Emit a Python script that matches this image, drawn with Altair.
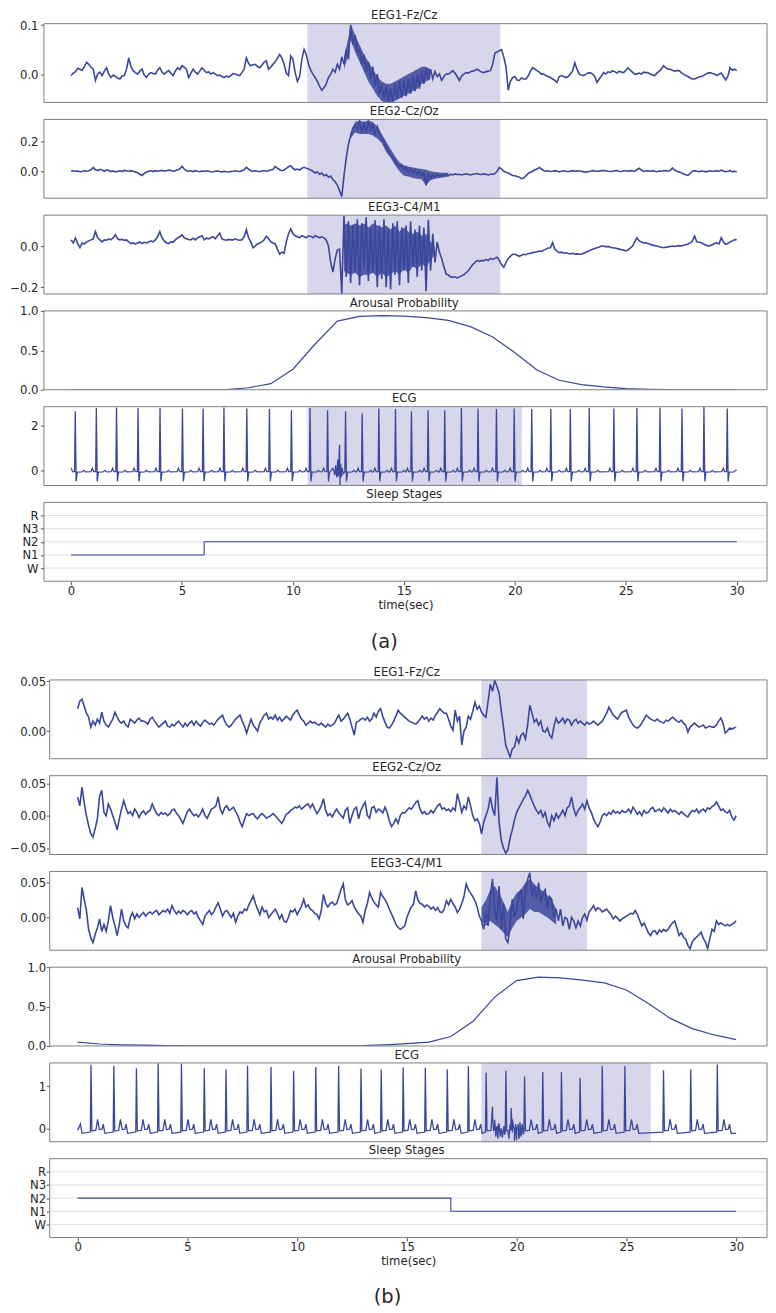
import altair as alt
import pandas as pd

FONT = "DejaVu Sans"
BLUE = "#3b479b"
SHADE = "#d8d6eb"
FRAME = "#808080"
TXT = "#262626"

# ---------------- layout (pixels) ----------------
LA = 42.5          # page x of group-a frame left (cell origin)
W = 725.0          # cell width; group a frame spans 0..W
DB = 5.8           # group b frame starts DB px to the right
XB_END = 725.0     # group b frame right edge
HA = 79
HB = 79
SP = 17
H_GAP = 65
H_END = 54
TOP_PAD = 13.3
XDOM_A = [-1.2225, 31.362]
XDOM_B = [-1.272, 31.404]
TITLE_XA = 361.3
TITLE_XB = 363.8

# ---------------- data ----------------
T = [round(i * 0.1, 1) for i in range(301)]
T_SEC = list(range(31))

EEG1_A = [
    -0.003, 0.002, 0.005, 0.012, 0.01, 0.008, 0.015, 0.024, 0.02, 0.014,
    0.01, -0.013, 0.0, 0.004, -0.003, 0.006, 0.013, 0.0, -0.007, -0.002,
    -0.005, -0.008, -0.01, -0.004, -0.003, 0.01, 0.033, 0.015, 0.007, 0.003,
    0.0, 0.006, 0.01, -0.002, -0.007, 0.0, 0.003, 0.001, 0.0, 0.008,
    0.013, 0.004, 0.0, 0.004, 0.007, 0.002, -0.003, 0.006, 0.013, 0.009,
    0.017, 0.014, 0.01, -0.007, 0.002, 0.01, 0.004, 0.0, 0.006, 0.013,
    0.008, 0.003, 0.005, 0.0, 0.003, 0.0, -0.003, -0.002, -0.005, -0.007,
    -0.004, -0.006, -0.003, 0.001, 0.0, -0.002, -0.003, 0.003, 0.01, 0.033,
    0.022, 0.017, 0.019, 0.02, 0.016, 0.013, 0.018, 0.024, 0.027, 0.01,
    0.014, 0.02, 0.025, 0.032, 0.04, 0.033, 0.02, 0.002, -0.003, 0.037,
    0.03, 0.003, -0.015, -0.005, 0.03, 0.05, 0.04, 0.02, 0.008, 0.0,
    -0.007, -0.015, -0.025, -0.033, -0.028, -0.02, -0.007, 0.0, 0.01, 0.004,
    0.02, 0.01, 0.035, 0.02, 0.05, 0.03, 0.1, 0.06, 0.08, 0.045,
    0.05, 0.02, 0.04, 0.005, 0.025, -0.01, 0.015, -0.025, 0.0, -0.04,
    -0.02, -0.05, -0.025, -0.055, -0.03, -0.058, -0.02, -0.05, -0.015, -0.048,
    -0.012, -0.045, -0.01, -0.04, -0.005, -0.035, 0.0, -0.03, 0.008, -0.02,
    0.012, -0.012, 0.01, -0.01, 0.005, -0.005, 0.0, -0.013, -0.005, 0.0,
    0.0, 0.003, 0.007, 0.002, -0.005, -0.013, -0.004, 0.0, 0.003, 0.002,
    0.005, 0.006, 0.008, 0.01, 0.007, 0.004, 0.003, 0.005, 0.006, 0.007,
    0.02, 0.043, 0.045, 0.048, 0.05, 0.035, 0.015, -0.033, -0.015, -0.007,
    -0.005, -0.012, -0.013, -0.008, -0.01, -0.01, -0.004, 0.006, 0.013, 0.01,
    0.007, 0.004, 0.0, 0.0, -0.003, -0.005, -0.007, -0.01, -0.013, -0.017,
    -0.005, -0.003, -0.005, -0.007, -0.005, 0.0, 0.006, 0.023, 0.01, 0.0,
    -0.002, -0.003, 0.0, 0.002, 0.003, 0.0, -0.005, -0.017, -0.01, -0.004,
    0.003, 0.0, 0.005, 0.003, 0.007, 0.005, 0.002, 0.006, 0.004, 0.003,
    0.008, 0.013, 0.008, 0.004, 0.0, 0.0, 0.002, 0.0, 0.004, 0.003,
    0.003, 0.0, -0.002, -0.003, 0.002, 0.006, 0.01, 0.017, 0.013, 0.01,
    0.01, 0.008, 0.006, 0.007, 0.007, 0.003, 0.0, -0.003, -0.005, -0.008,
    -0.01, -0.01, -0.008, -0.006, -0.005, -0.003, 0.0, 0.002, 0.003, 0.001,
    0.0, -0.003, 0.0, 0.002, -0.005, -0.012, -0.004, 0.013, 0.008, 0.01,
    0.007,
]

EEG2_A = [
    0.0, 0.003, 0.0, 0.002, -0.003, -0.002, 0.005, 0.0, 0.003, 0.01,
    0.026, 0.01, 0.005, 0.013, 0.008, 0.0, 0.01, 0.005, -0.002, 0.002,
    -0.005, 0.0, 0.003, -0.002, 0.006, 0.003, 0.0, 0.004, 0.0, -0.005,
    -0.01, -0.02, -0.028, -0.015, -0.005, 0.0, 0.003, -0.002, 0.004, 0.0,
    0.003, 0.006, 0.002, 0.004, 0.008, 0.005, 0.0, 0.003, 0.01, 0.015,
    0.033, 0.015, 0.004, 0.0, 0.003, -0.002, 0.004, 0.0, -0.003, 0.002,
    0.0, 0.003, 0.0, -0.003, -0.005, 0.0, 0.002, -0.002, -0.004, 0.0,
    -0.003, -0.005, -0.002, 0.0, 0.003, 0.0, -0.002, 0.004, 0.01, 0.026,
    0.015, 0.004, 0.0, 0.003, 0.0, -0.003, 0.002, 0.005, 0.0, 0.004,
    0.008, 0.012, 0.033, 0.02, 0.01, 0.004, 0.008, 0.02, 0.03, 0.037,
    0.02, 0.01, 0.015, 0.008, 0.02, 0.026, 0.02, 0.015, 0.008, 0.0,
    -0.012, -0.005, -0.02, -0.012, -0.03, -0.022, -0.04, -0.032, -0.055, -0.07,
    -0.094, -0.13, -0.17, -0.03, 0.09, 0.18, 0.24, 0.29, 0.31, 0.28,
    0.33, 0.27, 0.32, 0.26, 0.34, 0.28, 0.31, 0.25, 0.3, 0.26,
    0.22, 0.2, 0.16, 0.14, 0.11, 0.09, 0.07, 0.05, 0.03, 0.04,
    0.01, 0.03, -0.005, 0.02, -0.01, 0.01, -0.02, 0.0, -0.03, -0.01,
    -0.094, -0.02, -0.045, -0.025, -0.04, -0.02, -0.035, -0.025, -0.03, -0.02,
    -0.03, -0.02, -0.025, -0.018, -0.022, -0.02, -0.025, -0.02, -0.018, -0.02,
    -0.025, -0.02, -0.018, -0.015, -0.02, -0.022, -0.018, -0.02, -0.025, -0.02,
    -0.02, -0.015, 0.0, 0.026, 0.015, 0.0, -0.007, -0.012, -0.02, -0.028,
    -0.03, -0.035, -0.04, -0.05, -0.045, -0.03, -0.015, -0.007, 0.0, 0.01,
    0.015, 0.026, 0.015, 0.005, 0.0, 0.003, -0.002, 0.0, 0.004, 0.002,
    -0.005, 0.0, 0.003, 0.0, -0.003, 0.002, 0.004, 0.0, 0.003, 0.002,
    0.0, -0.004, -0.006, -0.003, 0.0, 0.004, 0.002, 0.0, 0.0, 0.004,
    0.005, 0.003, 0.0, -0.002, 0.0, 0.003, 0.005, 0.0, -0.002, 0.003,
    0.003, 0.0, 0.004, 0.002, 0.0, 0.01, 0.02, 0.008, 0.0, 0.002,
    0.003, 0.0, 0.004, 0.0, -0.003, 0.002, 0.0, 0.003, 0.004, 0.0,
    0.005, 0.022, 0.008, 0.0, -0.005, -0.01, -0.018, -0.024, -0.028, -0.015,
    0.0, 0.004, 0.0, -0.003, 0.002, 0.0, -0.004, 0.0, 0.003, 0.0,
    0.0, 0.004, 0.0, 0.007, 0.002, -0.003, 0.0, 0.005, -0.004, 0.0,
    -0.003,
]

EEG3_A = [
    0.03, 0.015, 0.04, 0.01, -0.008, 0.015, 0.01, 0.02, 0.025, 0.03,
    0.035, 0.07, 0.04, 0.03, 0.02, 0.03, 0.028, 0.035, 0.03, 0.04,
    0.055, 0.035, 0.03, 0.032, 0.028, 0.03, 0.02, 0.012, 0.015, 0.01,
    0.015, 0.02, 0.012, 0.018, 0.015, 0.02, 0.025, 0.02, 0.03, 0.045,
    0.07, 0.04, 0.025, 0.015, 0.012, 0.02, 0.018, 0.03, 0.04, 0.045,
    0.055, 0.04, 0.035, 0.032, 0.03, 0.038, 0.03, 0.04, 0.045, 0.05,
    0.03, 0.038, 0.035, 0.04, 0.045, 0.035, 0.05, 0.063, 0.035, 0.03,
    0.028, 0.032, 0.03, 0.03, 0.035, 0.03, 0.028, 0.03, 0.045, 0.08,
    0.04, 0.02, -0.008, 0.0, 0.01, 0.015, 0.02, 0.03, 0.047, 0.035,
    0.02, 0.015, 0.01, -0.015, -0.04, -0.03, -0.035, 0.02, 0.06, 0.083,
    0.06, 0.05, 0.045, 0.04, 0.05, 0.045, 0.04, 0.05, 0.048, 0.04,
    0.05, 0.045, 0.04, 0.045, 0.04, 0.03, 0.0, -0.08, -0.127, -0.063,
    -0.02, -0.015, -0.233, 0.15, -0.15, 0.12, -0.18, 0.1, -0.12, 0.13,
    -0.19, 0.11, -0.1, 0.14, -0.17, 0.09, -0.13, 0.125, -0.2, 0.1,
    -0.16, 0.13, -0.2, 0.08, -0.21, 0.11, -0.14, 0.12, -0.19, 0.09,
    -0.12, 0.1, -0.18, 0.12, -0.1, 0.08, -0.15, 0.1, -0.12, 0.09,
    -0.22, 0.127, -0.12, 0.06, -0.08, 0.02, -0.03, -0.06, -0.1, -0.135,
    -0.14, -0.15, -0.152, -0.15, -0.155, -0.15, -0.145, -0.14, -0.13, -0.12,
    -0.105, -0.09, -0.08, -0.07, -0.075, -0.07, -0.072, -0.065, -0.07, -0.06,
    -0.065, -0.06, -0.055, -0.07, -0.09, -0.103, -0.08, -0.06, -0.05, -0.04,
    -0.04, -0.045, -0.05, -0.045, -0.04, -0.042, -0.038, -0.035, -0.032, -0.03,
    -0.028, -0.024, -0.026, -0.02, -0.015, -0.01, -0.008, 0.016, -0.015, -0.025,
    -0.032, -0.03, -0.035, -0.033, -0.036, -0.038, -0.035, -0.04, -0.038, -0.04,
    -0.04, -0.035, -0.03, -0.025, -0.02, -0.016, -0.012, -0.008, -0.005, 0.0,
    0.0, -0.004, -0.002, -0.006, -0.008, -0.01, -0.012, -0.015, -0.018, -0.02,
    -0.024, -0.018, -0.01, 0.0, 0.02, 0.04, 0.025, 0.02, 0.015, 0.016,
    0.012, 0.008, 0.005, 0.002, 0.0, -0.004, -0.006, -0.008, -0.006, -0.004,
    -0.002, 0.0, -0.002, 0.0, 0.002, 0.0, 0.004, 0.006, 0.01, 0.015,
    0.024, 0.048, 0.02, 0.018, 0.016, 0.01, 0.005, 0.0, 0.002, 0.006,
    0.012, 0.015, 0.01, 0.04, 0.02, 0.008, 0.012, 0.02, 0.025, 0.03,
    0.032,
]

EEG1_B = [
    0.0225, 0.03, 0.032, 0.025, 0.018, 0.014, 0.004, 0.01, 0.006, 0.012,
    0.008, 0.019, 0.01, 0.006, 0.004, 0.008, 0.012, 0.019, 0.014, 0.01,
    0.008, 0.01, 0.006, 0.004, 0.012, 0.01, 0.008, 0.011, 0.013, 0.01,
    0.01, 0.009, 0.007, 0.012, 0.014, 0.01, 0.007, 0.004, 0.006, 0.008,
    0.01, 0.005, 0.004, 0.007, 0.005, 0.008, 0.01, 0.007, 0.004, 0.008,
    0.005, 0.008, 0.01, 0.006, 0.01, 0.007, 0.005, 0.009, 0.011, 0.009,
    0.007, 0.008, 0.006, 0.009, 0.012, 0.014, 0.016, 0.01, 0.006, 0.004,
    0.006, 0.009, 0.012, 0.014, 0.016, 0.01, 0.005, -0.002, 0.005, 0.012,
    0.006, 0.003, 0.0, 0.008, 0.012, 0.016, 0.018, 0.012, 0.014, 0.012,
    0.016, 0.011, 0.014, 0.01, 0.012, 0.015, 0.013, 0.011, 0.016, 0.019,
    0.021, 0.016, 0.012, 0.01, 0.006, 0.008, 0.01, 0.008, 0.009, 0.007,
    0.006, 0.008, 0.006, 0.004, 0.007, 0.005, 0.006, 0.008, 0.012, 0.016,
    0.01, 0.012, 0.015, 0.018, 0.012, 0.004, -0.004, 0.009, 0.01, 0.012,
    0.013, 0.011, 0.014, 0.01, 0.012, 0.018, 0.014, 0.02, 0.0225, 0.015,
    0.009, 0.004, 0.003, 0.006, 0.01, 0.015, 0.021, 0.018, 0.016, 0.014,
    0.012, 0.01, 0.009, 0.008, 0.007, 0.009, 0.012, 0.015, 0.012, 0.014,
    0.01, 0.013, 0.011, 0.016, 0.019, 0.0225, 0.02, 0.018, 0.018, 0.012,
    0.005, 0.001, 0.021, 0.01, 0.015, -0.014, 0.0, 0.004, 0.015, 0.012,
    0.02, 0.029, 0.022, 0.025, 0.019, 0.016, 0.014, 0.03, 0.047, 0.04,
    0.051, 0.045, 0.038, 0.02, 0.004, -0.014, -0.02, -0.026, -0.018, -0.016,
    -0.006, -0.012, -0.004, -0.002, -0.008, 0.006, 0.026, 0.018, 0.009, 0.012,
    0.006, 0.01, 0.0, -0.001, 0.003, -0.004, -0.007, 0.005, 0.013, 0.008,
    0.01, 0.013, 0.008, 0.012, 0.011, 0.006, 0.01, 0.012, 0.008, 0.01,
    0.008, 0.006, 0.009, 0.007, 0.008, 0.01, 0.008, 0.006, 0.008, 0.01,
    0.014, 0.018, 0.024, 0.02, 0.016, 0.014, 0.012, 0.016, 0.019, 0.02,
    0.021, 0.014, 0.01, 0.006, 0.004, 0.003, 0.005, 0.008, 0.012, 0.016,
    0.014, 0.012, 0.011, 0.01, 0.012, 0.01, 0.009, 0.008, 0.011, 0.01,
    0.012, 0.014, 0.012, 0.01, 0.009, 0.011, 0.008, 0.006, -0.001, 0.004,
    0.006, 0.008, 0.006, 0.004, 0.005, 0.006, 0.003, 0.004, 0.005, 0.004,
    0.004, 0.006, 0.01, 0.013, 0.008, -0.002, 0.0, 0.003, 0.002, 0.003,
    0.004,
]

EEG2_B = [
    0.0285, 0.015, 0.044, 0.02, 0.0, -0.015, -0.028, -0.033, -0.02, -0.005,
    0.03, 0.039, 0.005, 0.0, 0.018, 0.01, 0.0, -0.01, -0.022, -0.005,
    0.01, 0.023, 0.012, 0.003, 0.006, 0.0, 0.01, 0.005, -0.003, 0.004,
    0.007, 0.002, 0.006, 0.008, 0.018, 0.01, 0.003, 0.0, 0.005, 0.002,
    0.004, 0.0, 0.003, 0.008, 0.01, 0.004, 0.0, -0.006, -0.012, -0.003,
    0.006, 0.01, 0.004, 0.0, 0.002, -0.002, 0.003, 0.01, 0.0, -0.004,
    0.003, 0.01, 0.012, 0.015, 0.029, 0.01, 0.003, 0.012, 0.015, 0.008,
    0.01, 0.013, 0.006, 0.0, -0.01, -0.017, -0.006, 0.003, 0.0, 0.002,
    0.003, -0.002, -0.005, 0.0, 0.003, 0.0, -0.004, -0.002, 0.0, 0.003,
    0.0, -0.004, -0.008, -0.012, -0.006, 0.002, 0.004, 0.008, 0.01, 0.013,
    0.012, 0.015, 0.01, 0.013, 0.016, 0.018, 0.012, 0.018, 0.01, 0.003,
    0.008, 0.015, 0.026, 0.008, 0.0, 0.003, -0.002, 0.005, 0.01, 0.004,
    0.0, -0.004, 0.008, 0.012, -0.012, 0.0, 0.01, 0.013, -0.005, 0.008,
    0.015, 0.021, 0.0, -0.004, 0.012, 0.014, 0.005, 0.01, 0.008, 0.004,
    0.013, 0.005, -0.008, -0.017, -0.012, -0.005, -0.012, 0.0, 0.005, 0.004,
    0.008, 0.012, 0.01, 0.015, 0.02, 0.023, 0.01, 0.003, 0.006, 0.002,
    0.003, 0.008, 0.004, 0.01, 0.015, 0.018, 0.01, 0.012, 0.008, 0.01,
    0.006, 0.012, 0.008, 0.034, 0.02, 0.005, 0.015, 0.01, 0.029, 0.015,
    0.0, -0.008, -0.005, -0.012, -0.028, -0.01, 0.0, 0.01, 0.029, 0.01,
    0.0, 0.059, -0.01, -0.038, -0.05, -0.058, -0.053, -0.035, -0.022, -0.007,
    0.005, 0.012, 0.018, 0.025, 0.03, 0.039, 0.032, 0.023, 0.015, 0.008,
    0.003, 0.008, -0.002, 0.005, -0.01, -0.017, 0.0, -0.008, 0.003, -0.004,
    0.002, 0.008, 0.0, 0.012, 0.015, 0.029, 0.01, 0.0, 0.008, 0.012,
    0.018, 0.01, 0.023, 0.012, 0.005, -0.005, -0.012, -0.017, -0.01, 0.0,
    0.003, 0.0, 0.005, 0.002, 0.008, 0.004, 0.006, 0.003, 0.008, 0.005,
    0.006, 0.01, 0.004, 0.013, 0.008, 0.002, 0.006, 0.0, 0.008, 0.004,
    0.005, 0.01, 0.013, 0.006, 0.008, 0.01, 0.006, 0.012, 0.008, 0.004,
    0.01, 0.006, 0.008, 0.005, 0.002, 0.006, 0.003, 0.0, -0.002, 0.004,
    0.008, 0.006, 0.01, 0.004, 0.008, 0.01, 0.006, 0.012, 0.01, 0.014,
    0.016, 0.021, 0.015, 0.008, 0.01, 0.006, 0.004, 0.008, -0.002, -0.007,
    0.0,
]

EEG3_B = [
    0.014, -0.002, 0.043, 0.026, 0.01, -0.017, -0.029, -0.036, -0.024, -0.015,
    -0.002, -0.02, -0.01, -0.02, -0.005, 0.017, 0.0, -0.012, -0.026, -0.01,
    0.012, -0.005, -0.012, -0.015, 0.0, 0.007, -0.002, 0.005, 0.0, 0.004,
    0.007, 0.002, 0.006, 0.008, 0.005, 0.008, 0.01, 0.004, 0.007, 0.01,
    0.008, 0.012, 0.006, 0.017, 0.01, 0.005, 0.009, 0.006, 0.01, 0.008,
    0.004, 0.008, 0.01, 0.005, 0.008, 0.0, -0.005, -0.01, 0.002, 0.006,
    0.01, 0.004, 0.008, 0.015, 0.021, 0.012, 0.002, 0.008, 0.01, 0.005,
    0.0, 0.006, -0.007, 0.002, 0.008, 0.006, 0.012, 0.01, 0.018, 0.024,
    0.031, 0.02, 0.012, 0.004, 0.015, 0.008, 0.01, 0.0, 0.004, 0.008,
    0.012, 0.006, -0.002, 0.004, -0.005, -0.007, 0.0, 0.01, 0.008, 0.012,
    0.004, 0.01, 0.016, 0.026, 0.015, 0.018, 0.012, 0.01, 0.006, 0.004,
    -0.002, 0.01, 0.033, 0.02, 0.015, 0.02, 0.022, 0.018, 0.02, 0.03,
    0.04, 0.048, 0.025, 0.018, 0.02, 0.024, 0.015, 0.01, 0.005, 0.002,
    -0.007, 0.01, 0.02, 0.036, 0.028, 0.022, 0.018, 0.015, 0.036, 0.03,
    0.026, 0.02, 0.012, 0.005, -0.002, -0.01, -0.014, -0.017, -0.015, -0.012,
    0.0, 0.008, 0.015, 0.019, 0.038, 0.025, 0.02, 0.019, 0.015, 0.018,
    0.016, 0.012, 0.015, 0.01, 0.014, 0.008, 0.007, 0.012, 0.024, 0.018,
    0.026, 0.02, 0.015, 0.007, 0.012, 0.02, 0.03, 0.048, 0.04, 0.035,
    0.03, 0.024, 0.015, 0.002, -0.005, -0.017, 0.01, -0.012, 0.03, 0.055,
    0.01, -0.007, 0.045, -0.017, 0.02, -0.031, -0.036, -0.012, 0.026, 0.0,
    0.012, 0.03, 0.04, -0.002, 0.04, 0.055, 0.064, 0.03, 0.045, 0.026,
    0.05, 0.021, 0.035, 0.04, 0.012, 0.03, 0.026, 0.0, 0.012, -0.005,
    0.012, -0.012, 0.0, -0.002, -0.017, 0.0, -0.005, -0.015, -0.005, -0.012,
    0.0, 0.005, -0.004, 0.008, 0.012, 0.017, 0.01, 0.014, 0.012, 0.008,
    0.01, 0.012, 0.008, 0.004, -0.002, 0.002, -0.001, -0.005, -0.002, 0.0,
    0.002, 0.004, 0.006, 0.005, 0.01, 0.004, -0.004, -0.012, -0.008, -0.015,
    -0.022, -0.026, -0.02, -0.019, -0.024, -0.018, -0.021, -0.017, -0.02, -0.017,
    -0.012, -0.008, -0.005, -0.015, -0.026, -0.022, -0.028, -0.031, -0.04, -0.045,
    -0.035, -0.031, -0.028, -0.025, -0.021, -0.03, -0.035, -0.045, -0.03, -0.017,
    -0.02, -0.005, -0.01, -0.008, -0.01, -0.012, -0.01, -0.012, -0.01, -0.008,
    -0.005,
]

# dense-noise cores (lower / upper envelope of the thick parts of the traces)
BAND1A_T = [12.3, 12.5, 12.6, 12.8, 13.0, 13.2, 13.4, 13.6, 13.8, 14.0, 14.2,
            14.4, 14.6, 14.8, 15.0, 15.2, 15.4, 15.6, 15.8, 16.0, 16.2]
BAND1A_LO = [0.01, 0.04, 0.07, 0.045, 0.025, 0.005, -0.015, -0.03, -0.045, -0.055,
             -0.058, -0.058, -0.055, -0.05, -0.045, -0.04, -0.035, -0.03, -0.02,
             -0.015, -0.01]
BAND1A_HI = [0.035, 0.075, 0.103, 0.08, 0.06, 0.04, 0.025, 0.01, -0.005, -0.015,
             -0.02, -0.02, -0.015, -0.01, -0.005, 0.0, 0.005, 0.01, 0.015, 0.015, 0.01]

BAND2A_T = [12.6, 12.8, 13.0, 13.2, 13.4, 13.6, 13.8, 14.0, 14.2, 14.4, 14.6, 14.8,
            15.0, 15.2, 15.4, 15.6, 15.8, 16.0, 16.2, 16.4, 16.6, 16.8, 17.0]
BAND2A_LO = [0.22, 0.26, 0.25, 0.25, 0.25, 0.24, 0.22, 0.19, 0.13, 0.09, 0.04, 0.0,
             -0.03, -0.035, -0.045, -0.05, -0.055, -0.094, -0.06, -0.05, -0.045,
             -0.04, -0.035]
BAND2A_HI = [0.26, 0.33, 0.34, 0.33, 0.34, 0.33, 0.3, 0.25, 0.2, 0.15, 0.1, 0.06,
             0.04, 0.03, 0.025, 0.02, 0.015, 0.01, 0.0, -0.005, -0.008, -0.01, -0.01]

BAND3A_T = [12.3, 12.4, 12.6, 12.8, 13.0, 13.2, 13.4, 13.6, 13.8, 14.0, 14.2, 14.4,
            14.6, 14.8, 15.0, 15.2, 15.4, 15.6, 15.8, 16.0, 16.2, 16.4]
BAND3A_LO = [-0.12, -0.13, -0.14, -0.13, -0.15, -0.14, -0.14, -0.13, -0.15, -0.13,
             -0.15, -0.14, -0.12, -0.14, -0.11, -0.13, -0.1, -0.11, -0.09, -0.1,
             -0.07, -0.04]
BAND3A_HI = [0.1, 0.11, 0.1, 0.11, 0.1, 0.11, 0.09, 0.11, 0.1, 0.09, 0.1, 0.08, 0.1,
             0.07, 0.09, 0.07, 0.06, 0.07, 0.05, 0.06, 0.02, -0.01]

BAND3B_T = [18.4, 18.6, 18.8, 19.0, 19.2, 19.4, 19.6, 19.8, 20.0, 20.2, 20.4, 20.6,
            20.8, 21.0, 21.2, 21.4, 21.6, 21.8]
BAND3B_LO = [-0.005, -0.012, -0.005, -0.01, -0.015, -0.022, -0.028, -0.015, -0.005,
             0.0, 0.005, 0.012, 0.008, 0.008, 0.004, 0.0, -0.005, -0.01]
BAND3B_HI = [0.015, 0.025, 0.04, 0.045, 0.035, 0.022, 0.008, 0.025, 0.035, 0.04,
             0.05, 0.055, 0.048, 0.042, 0.038, 0.032, 0.025, 0.012]

AROUSAL_A = [0, 0, 0, 0, 0, 0, 0, 0.003, 0.025, 0.077, 0.26, 0.58, 0.87, 0.93,
             0.94, 0.935, 0.915, 0.88, 0.80, 0.67, 0.47, 0.25, 0.12, 0.065, 0.035,
             0.015, 0.006, 0.003, 0.001, 0, 0]
AROUSAL_B = [0.05, 0.025, 0.015, 0.01, 0.005, 0.003, 0.002, 0.002, 0.002, 0.002,
             0.002, 0.002, 0.003, 0.005, 0.015, 0.03, 0.05, 0.12, 0.31, 0.62, 0.83,
             0.875, 0.865, 0.835, 0.80, 0.71, 0.54, 0.35, 0.22, 0.14, 0.08]

# ECG: beat times (s), R-peak heights, per-beat waveform shape
ECG_A_BEATS = [0.19, 1.14, 2.05, 3.02, 4.01, 5.02, 5.95, 6.89, 7.92, 8.94, 9.93,
               10.77, 11.56, 12.37, 13.12, 13.87, 14.62, 15.34, 16.09, 16.84, 17.59,
               18.34, 19.17, 19.97, 20.76, 21.62, 22.5, 23.35, 24.46, 25.5, 26.54,
               27.53, 28.52, 29.57]
ECG_A_PEAKS = [2.65, 2.8, 2.82, 2.8, 2.8, 2.78, 2.78, 2.82, 2.78, 2.75, 2.7, 2.8,
               2.7, 2.66, 2.55, 2.78, 2.75, 2.66, 2.7, 2.7, 2.8, 2.78, 2.75, 2.78,
               2.75, 2.75, 2.75, 2.8, 2.78, 2.8, 2.82, 2.78, 2.85, 2.78]
ECG_A_DT = [-0.24, -0.18, -0.12, -0.03, 0.0, 0.04, 0.09, 0.3, 0.38, 0.46]
ECG_A_DV = [-0.05, 0.1, -0.05, -0.05, None, -0.48, -0.07, -0.06, 0.01, -0.06]
ECG_A_EXTRA_T = [0.0, 11.8, 11.88, 11.93, 11.98, 12.02, 12.05, 12.08, 12.1, 12.12,
                 12.15, 12.18, 12.22, 12.26, 30.0]
ECG_A_EXTRA_V = [0.1, 0.1, -0.2, 0.25, -0.3, 0.5, -0.25, 0.62, 1.16, -0.66,
                 0.3, -0.3, 0.1, -0.15, 0.01]

ECG_B_BEATS = [0.61, 1.65, 2.68, 3.67, 4.73, 5.77, 6.76, 7.74, 8.81, 9.84, 10.85,
               11.89, 12.91, 13.83, 14.83, 15.84, 16.84, 17.8, 18.61, 19.51, 20.36,
               21.19, 22.04, 22.89, 23.9, 24.93, 26.69, 27.93, 29.14]
ECG_B_PEAKS = [1.51, 1.49, 1.43, 1.55, 1.54, 1.43, 1.40, 1.49, 1.46, 1.37, 1.46,
               1.48, 1.42, 1.40, 1.45, 1.44, 1.40, 1.48, 1.32, 1.37, 1.23, 1.34,
               1.34, 1.2, 1.48, 1.48, 1.38, 1.40, 1.52]
ECG_B_DT = [-0.03, 0.0, 0.04, 0.22, 0.3, 0.38, 0.5, 0.56, 0.63]
ECG_B_DV = [-0.09, None, -0.06, -0.05, 0.21, -0.03, -0.02, 0.1, -0.12]
ECG_B_EXTRA_T = [0.0, 0.13, 0.2, 18.85, 18.9, 18.95, 19.0, 19.05, 19.1, 19.15, 19.2,
                 19.25, 19.3, 19.35, 19.42, 19.46, 19.6, 19.65, 19.7, 19.75, 19.8,
                 19.85, 19.9, 19.95, 20.0, 20.05, 20.1, 20.15, 20.2, 20.25, 20.3, 30.0]
ECG_B_EXTRA_V = [-0.05, 0.1, -0.12, 0.1, 0.52, -0.05, 0.2, -0.2, 0.05, -0.25, 0.1,
                 -0.2, 0.0, -0.22, 0.05, -0.15, -0.05, -0.25, 0.1, 0.48, -0.1,
                 0.05, -0.3, 0.1, -0.28, 0.05, -0.25, 0.15, -0.2, 0.1, -0.15, -0.12]

STAGE_NAMES = ["W", "N1", "N2", "N3", "R"]
SLEEP_A_T = [0, 6, 30]
SLEEP_A_S = [1, 2, 2]
SLEEP_B_T = [0, 17, 30]
SLEEP_B_S = [2, 1, 1]

SHADE_A_EEG = (10.65, 19.34)
SHADE_A_ECG = (10.65, 20.31)
SHADE_B_EEG = (18.39, 23.2)
SHADE_B_ECG = (18.39, 26.11)

ONE = pd.DataFrame({"k": [0]})


def ecg_frame(beats, peaks, dts, dvs, et, ev):
    pts = list(zip(et, ev))
    for b, p in zip(beats, peaks):
        for dt, dv in zip(dts, dvs):
            tt = round(b + dt, 3)
            if 0 <= tt <= 30:
                pts.append((tt, p if dv is None else dv))
    pts.sort(key=lambda q: q[0])
    return pd.DataFrame({"t": [q[0] for q in pts], "v": [q[1] for q in pts]})


def band(t, lo, hi):
    return pd.DataFrame({"t": t, "lo": lo, "hi": hi})


def panel(df, ydom, yvals, yfmt, title, h, grp, shade=None, sleep=False,
          interp=None, lw=1.6, anchor=False, core=None):
    x0, x1 = (0, W) if grp == "a" else (DB, XB_END)
    xdom = XDOM_A if grp == "a" else XDOM_B
    xsc = alt.Scale(domain=xdom, range=[x0, x1], nice=False, zero=False)
    ysc = alt.Scale(domain=ydom, nice=False, zero=False)
    ykw = dict(values=yvals, title=None, domain=False, grid=False,
               labelFlush=False, labelOverlap=False,
               labelPadding=2.4 if grp == "a" else 0.6)
    if yfmt:
        ykw["format"] = yfmt
    if grp == "b":
        ykw["offset"] = -DB
    if sleep:
        ykw["labelExpr"] = "['W','N1','N2','N3','R'][datum.value]"
    yaxis = alt.Axis(**ykw)
    if sleep:
        xaxis = alt.Axis(values=list(range(0, 31, 5)), format="d", title="time(sec)",
                         domain=False, grid=False, labelFlush=False, labelPadding=1,
                         titlePadding=2)
    else:
        xaxis = None
    layers = []
    if anchor:
        layers.append(
            alt.Chart(ONE).mark_rule(color="transparent", strokeWidth=0.1).encode(
                x=alt.value(8 - LA), y=alt.value(-TOP_PAD), y2=alt.value(0)))
    if shade:
        sdf = pd.DataFrame({"s": [shade[0]], "e": [shade[1]]})
        layers.append(
            alt.Chart(sdf).mark_rect(color=SHADE).encode(
                x=alt.X("s:Q", scale=xsc, axis=xaxis), x2="e:Q",
                y=alt.value(0), y2=alt.value(h)))
    if sleep:
        gdf = pd.DataFrame({"g": list(range(len(STAGE_NAMES)))})
        layers.append(
            alt.Chart(gdf).mark_rule(color="#dddddd", strokeWidth=1).encode(
                y=alt.Y("g:Q", scale=ysc, axis=yaxis),
                x=alt.value(x0), x2=alt.value(x1)))
    if core is not None:
        layers.append(
            alt.Chart(core).mark_area(color=BLUE, opacity=0.85, clip=True,
                                      interpolate="linear").encode(
                x=alt.X("t:Q", scale=xsc, axis=xaxis),
                y=alt.Y("lo:Q", scale=ysc, axis=yaxis), y2="hi:Q"))
    mk = dict(color=BLUE, strokeWidth=lw, clip=True)
    if interp:
        mk["interpolate"] = interp
    layers.append(
        alt.Chart(df).mark_line(**mk).encode(
            x=alt.X("t:Q", scale=xsc, axis=xaxis),
            y=alt.Y("v:Q", scale=ysc, axis=yaxis)))
    layers.append(
        alt.Chart(ONE).mark_rect(filled=False, color=FRAME, strokeWidth=1).encode(
            x=alt.value(x0), x2=alt.value(x1), y=alt.value(0), y2=alt.value(h)))
    layers.append(
        alt.Chart(ONE).mark_text(text=title, font=FONT, fontSize=11.7, color=TXT,
                                 align="center", baseline="top").encode(
            x=alt.value(TITLE_XA if grp == "a" else TITLE_XB), y=alt.value(-13.3)))
    return alt.layer(*layers).properties(width=W, height=h)


def label_cell(text, xc, yc, h):
    return alt.Chart(ONE).mark_text(text=text, font=FONT, fontSize=19.5, color=TXT,
                                    align="center", baseline="middle").encode(
        x=alt.value(xc), y=alt.value(yc)).properties(width=W, height=h)


def sig(vals):
    return pd.DataFrame({"t": T, "v": vals})


cells = [
    panel(sig(EEG1_A), [-0.058, 0.103], [0.0, 0.1], ".1f", "EEG1-Fz/Cz", HA, "a",
          SHADE_A_EEG, anchor=True, core=band(BAND1A_T, BAND1A_LO, BAND1A_HI)),
    panel(sig(EEG2_A), [-0.181, 0.348], [0.0, 0.2], ".1f", "EEG2-Cz/Oz", HA, "a",
          SHADE_A_EEG, core=band(BAND2A_T, BAND2A_LO, BAND2A_HI)),
    panel(sig(EEG3_A), [-0.233, 0.150], [-0.2, 0.0], ".1f", "EEG3-C4/M1", HA, "a",
          SHADE_A_EEG, core=band(BAND3A_T, BAND3A_LO, BAND3A_HI)),
    panel(pd.DataFrame({"t": T_SEC, "v": AROUSAL_A}), [0, 1], [0.0, 0.5, 1.0], ".1f",
          "Arousal Probability", HA, "a", lw=1.2),
    panel(ecg_frame(ECG_A_BEATS, ECG_A_PEAKS, ECG_A_DT, ECG_A_DV, ECG_A_EXTRA_T, ECG_A_EXTRA_V),
          [-0.665, 2.86], [0, 2], "d", "ECG", HA, "a", SHADE_A_ECG, lw=1.3),
    panel(pd.DataFrame({"t": SLEEP_A_T, "v": SLEEP_A_S}), [-1, 5], [0, 1, 2, 3, 4], None,
          "Sleep Stages", HA, "a", sleep=True, interp="step-after", lw=1.1),
    label_cell("(a)", 341.2, 43.7, H_GAP),
    panel(sig(EEG1_B), [-0.0278, 0.0514], [0.0, 0.05], ".2f", "EEG1-Fz/Cz", HB, "b", SHADE_B_EEG),
    panel(sig(EEG2_B), [-0.060, 0.0616], [-0.05, 0.0, 0.05], ".2f", "EEG2-Cz/Oz", HB, "b", SHADE_B_EEG),
    panel(sig(EEG3_B), [-0.047, 0.066], [0.0, 0.05], ".2f", "EEG3-C4/M1", HB, "b",
          SHADE_B_EEG, core=band(BAND3B_T, BAND3B_LO, BAND3B_HI)),
    panel(pd.DataFrame({"t": T_SEC, "v": AROUSAL_B}), [0, 1], [0.0, 0.5, 1.0], ".1f",
          "Arousal Probability", HB, "b", lw=1.2),
    panel(ecg_frame(ECG_B_BEATS, ECG_B_PEAKS, ECG_B_DT, ECG_B_DV, ECG_B_EXTRA_T, ECG_B_EXTRA_V),
          [-0.32, 1.555], [0, 1], "d", "ECG", HB, "b", SHADE_B_ECG, lw=1.3),
    panel(pd.DataFrame({"t": SLEEP_B_T, "v": SLEEP_B_S}), [-1, 5], [0, 1, 2, 3, 4], None,
          "Sleep Stages", HB, "b", sleep=True, interp="step-after", lw=1.1),
    label_cell("(b)", 344.5, 42.5, H_END),
]

chart = alt.vconcat(*cells, spacing=SP, bounds="flush").properties(
    padding={"left": 0, "top": 0, "right": 0, "bottom": 0}
).configure_view(
    stroke="transparent"
).configure_axis(
    labelFont=FONT, labelFontSize=11.7, labelColor=TXT, tickColor="#555555",
    tickSize=3.5, tickWidth=1, titleFont=FONT, titleFontSize=11.7,
    titleFontWeight="normal", titleColor=TXT
)

chart.save("out.html", embed_options={"renderer": "svg", "actions": False})
